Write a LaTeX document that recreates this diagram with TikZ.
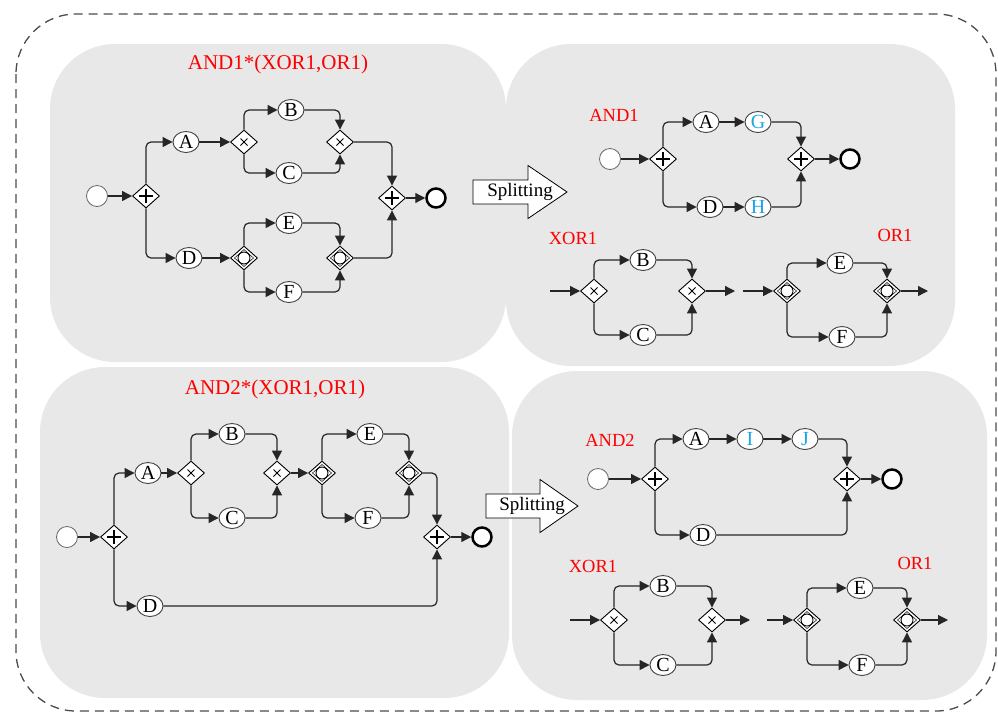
\documentclass[tikz,border=0pt]{standalone}
\usepackage{fontspec}
\setmainfont{Liberation Serif}
\usepackage{tikz}
\usetikzlibrary{shapes.geometric, arrows.meta}
\definecolor{panelgray}{RGB}{232,232,232}
\definecolor{taskblue}{RGB}{25,165,230}

\begin{document}
\begin{tikzpicture}[x=1pt, y=-1pt, >={Triangle[length=10pt, width=10pt]},
	panel/.style={fill=panelgray, rounded corners=65pt},
	task/.style={ellipse, draw=black!75, fill=white, line width=0.9pt, minimum width=26pt, minimum height=21pt, inner sep=0pt, font=\fontsize{20}{20}\selectfont},
	gate/.style={diamond, draw=black, fill=white, line width=0.9pt, minimum width=27pt, minimum height=24pt, inner sep=0pt},
	andgate/.style={gate, path picture={
		\draw [line width=1.1pt] ([xshift=-7pt]path picture bounding box.center) -- ([xshift=7pt]path picture bounding box.center)
			([yshift=-7pt]path picture bounding box.center) -- ([yshift=7pt]path picture bounding box.center);}},
	xorgate/.style={gate, path picture={
		\draw [line width=0.9pt] ([shift={(-3.5pt,-3.5pt)}]path picture bounding box.center) -- ([shift={(3.5pt,3.5pt)}]path picture bounding box.center)
			([shift={(-3.5pt,3.5pt)}]path picture bounding box.center) -- ([shift={(3.5pt,-3.5pt)}]path picture bounding box.center);}},
	orgate/.style={gate, path picture={
		\draw [line width=0.5pt] ([xshift=-9.5pt]path picture bounding box.center) -- ([yshift=8.5pt]path picture bounding box.center)
			-- ([xshift=9.5pt]path picture bounding box.center) -- ([yshift=-8.5pt]path picture bounding box.center) -- cycle;
		\draw [line width=0.9pt] (path picture bounding box.center) circle (6pt);}},
	startev/.style={circle, draw=black!60, fill=white, line width=0.8pt, minimum size=21pt, inner sep=0pt},
	endev/.style={circle, draw=black, fill=white, line width=2.5pt, minimum size=19pt, inner sep=0pt},
	flow/.style={->, draw=black!85, line width=1.2pt, rounded corners=5pt},
	parttitle/.style={text=red, font=\fontsize{21}{21}\selectfont},
	subtitle/.style={text=red, font=\fontsize{18.5}{18.5}\selectfont},
	splitarrow/.style={draw=black, fill=white, line width=0.8pt},
	splittext/.style={font=\fontsize{19}{19}\selectfont}]
	\useasboundingbox (0, 0) rectangle (998, 713);
	\draw [black!70, line width=1.3pt, dash pattern=on 9pt off 6pt, rounded corners=60pt] (16, 14) rectangle (996, 711);
	\fill [panel] (50, 44) rectangle (506, 362);
	\fill [panel] (506, 44) rectangle (955, 366);
	\fill [panel] (40, 367) rectangle (509, 698);
	\fill [panel] (512, 371) rectangle (987, 700);

	\node (t1) at (278, 64) [parttitle] {AND1*(XOR1,OR1)};
	\node (st1) at (97, 196) [startev] {};
	\node (as1) at (146, 196) [andgate] {};
	\node (a1) at (186, 142) [task] {A};
	\node (xs1) at (244, 142) [xorgate] {};
	\node (b1) at (291, 110) [task] {B};
	\node (c1) at (289, 173) [task] {C};
	\node (xj1) at (340, 142) [xorgate] {};
	\node (d1) at (189, 258) [task] {D};
	\node (os1) at (244, 258) [orgate] {};
	\node (e1) at (289, 223) [task] {E};
	\node (f1) at (289, 292) [task] {F};
	\node (oj1) at (340, 258) [orgate] {};
	\node (aj1) at (392, 198) [andgate] {};
	\node (en1) at (436, 198) [endev] {};
	\draw [flow] (st1) -- (as1);
	\draw [flow] (as1.north) |- (a1);
	\draw [flow] (as1.south) |- (d1);
	\draw [flow] (a1) -- (xs1);
	\draw [flow] (xs1.north) |- (b1);
	\draw [flow] (xs1.south) |- (c1);
	\draw [flow] (b1) -| (xj1.north);
	\draw [flow] (c1) -| (xj1.south);
	\draw [flow] (d1) -- (os1);
	\draw [flow] (os1.north) |- (e1);
	\draw [flow] (os1.south) |- (f1);
	\draw [flow] (e1) -| (oj1.north);
	\draw [flow] (f1) -| (oj1.south);
	\draw [flow] (xj1) -| (aj1.north);
	\draw [flow] (oj1) -| (aj1.south);
	\draw [flow] (aj1) -- (en1);

	\draw [splitarrow] (473, 180) -- (528, 180) -- (528, 165.5) -- (567, 192) -- (528, 218.5) -- (528, 204) -- (473, 204) -- cycle;
	\node (sp1) at (520, 192) [splittext] {Splitting};

	\node (t2) at (614, 115) [subtitle] {AND1};
	\node (st2) at (610, 159) [startev] {};
	\node (as2) at (663, 159) [andgate] {};
	\node (a2) at (706, 122) [task] {A};
	\node (g2) at (758, 122) [task, text=taskblue] {G};
	\node (d2) at (710, 207) [task] {D};
	\node (h2) at (758, 207) [task, text=taskblue] {H};
	\node (aj2) at (801, 159) [andgate] {};
	\node (en2) at (850, 159) [endev] {};
	\draw [flow] (st2) -- (as2);
	\draw [flow] (as2.north) |- (a2);
	\draw [flow] (as2.south) |- (d2);
	\draw [flow] (a2) -- (g2);
	\draw [flow] (d2) -- (h2);
	\draw [flow] (g2) -| (aj2.north);
	\draw [flow] (h2) -| (aj2.south);
	\draw [flow] (aj2) -- (en2);

	\node (t3) at (573, 238) [subtitle] {XOR1};
	\coordinate (in3) at (550, 291);
	\node (xs3) at (594, 291) [xorgate] {};
	\node (b3) at (643, 260) [task] {B};
	\node (c3) at (643, 335) [task] {C};
	\node (xj3) at (692, 291) [xorgate] {};
	\coordinate (out3) at (735, 291);
	\draw [flow] (in3) -- (xs3);
	\draw [flow] (xs3.north) |- (b3);
	\draw [flow] (xs3.south) |- (c3);
	\draw [flow] (b3) -| (xj3.north);
	\draw [flow] (c3) -| (xj3.south);
	\draw [flow] (xj3) -- (out3);

	\node (t4) at (895, 235) [subtitle] {OR1};
	\coordinate (in4) at (743, 291);
	\node (os4) at (787, 291) [orgate] {};
	\node (e4) at (840, 263) [task] {E};
	\node (f4) at (842, 337) [task] {F};
	\node (oj4) at (887, 291) [orgate] {};
	\coordinate (out4) at (928, 291);
	\draw [flow] (in4) -- (os4);
	\draw [flow] (os4.north) |- (e4);
	\draw [flow] (os4.south) |- (f4);
	\draw [flow] (e4) -| (oj4.north);
	\draw [flow] (f4) -| (oj4.south);
	\draw [flow] (oj4) -- (out4);

	\node (t5) at (275, 389) [parttitle] {AND2*(XOR1,OR1)};
	\node (st5) at (67, 537) [startev] {};
	\node (as5) at (114, 537) [andgate] {};
	\node (a5) at (148, 473) [task] {A};
	\node (xs5) at (191, 473) [xorgate] {};
	\node (b5) at (232, 434) [task] {B};
	\node (c5) at (232, 518) [task] {C};
	\node (xj5) at (277, 473) [xorgate] {};
	\node (os5) at (322, 473) [orgate] {};
	\node (e5) at (370, 434) [task] {E};
	\node (f5) at (368, 518) [task] {F};
	\node (oj5) at (409, 473) [orgate] {};
	\node (d5) at (150, 606) [task] {D};
	\node (aj5) at (437, 537) [andgate] {};
	\node (en5) at (482, 537) [endev] {};
	\draw [flow] (st5) -- (as5);
	\draw [flow] (as5.north) |- (a5);
	\draw [flow] (as5.south) |- (d5);
	\draw [flow] (a5) -- (xs5);
	\draw [flow] (xs5.north) |- (b5);
	\draw [flow] (xs5.south) |- (c5);
	\draw [flow] (b5) -| (xj5.north);
	\draw [flow] (c5) -| (xj5.south);
	\draw [flow] (xj5) -- (os5);
	\draw [flow] (os5.north) |- (e5);
	\draw [flow] (os5.south) |- (f5);
	\draw [flow] (e5) -| (oj5.north);
	\draw [flow] (f5) -| (oj5.south);
	\draw [flow] (oj5) -| (aj5.north);
	\draw [flow] (d5) -| (aj5.south);
	\draw [flow] (aj5) -- (en5);

	\draw [splitarrow] (486, 494) -- (540, 494) -- (540, 479.5) -- (578, 506) -- (540, 532.5) -- (540, 518) -- (486, 518) -- cycle;
	\node (sp2) at (532, 506) [splittext] {Splitting};

	\node (t6) at (610, 440) [subtitle] {AND2};
	\node (st6) at (598, 479) [startev] {};
	\node (as6) at (655, 479) [andgate] {};
	\node (a6) at (696, 439) [task] {A};
	\node (i6) at (750, 439) [task, text=taskblue] {I};
	\node (j6) at (805, 439) [task, text=taskblue] {J};
	\node (d6) at (703, 535) [task] {D};
	\node (aj6) at (847, 479) [andgate] {};
	\node (en6) at (892, 479) [endev] {};
	\draw [flow] (st6) -- (as6);
	\draw [flow] (as6.north) |- (a6);
	\draw [flow] (as6.south) |- (d6);
	\draw [flow] (a6) -- (i6);
	\draw [flow] (i6) -- (j6);
	\draw [flow] (j6) -| (aj6.north);
	\draw [flow] (d6) -| (aj6.south);
	\draw [flow] (aj6) -- (en6);

	\node (t7) at (593, 566) [subtitle] {XOR1};
	\coordinate (in7) at (570, 620);
	\node (xs7) at (614, 620) [xorgate] {};
	\node (b7) at (663, 586) [task] {B};
	\node (c7) at (663, 665) [task] {C};
	\node (xj7) at (712, 620) [xorgate] {};
	\coordinate (out7) at (750, 620);
	\draw [flow] (in7) -- (xs7);
	\draw [flow] (xs7.north) |- (b7);
	\draw [flow] (xs7.south) |- (c7);
	\draw [flow] (b7) -| (xj7.north);
	\draw [flow] (c7) -| (xj7.south);
	\draw [flow] (xj7) -- (out7);

	\node (t8) at (915, 563) [subtitle] {OR1};
	\coordinate (in8) at (767, 620);
	\node (os8) at (807, 620) [orgate] {};
	\node (e8) at (860, 588) [task] {E};
	\node (f8) at (862, 665) [task] {F};
	\node (oj8) at (907, 620) [orgate] {};
	\coordinate (out8) at (948, 620);
	\draw [flow] (in8) -- (os8);
	\draw [flow] (os8.north) |- (e8);
	\draw [flow] (os8.south) |- (f8);
	\draw [flow] (e8) -| (oj8.north);
	\draw [flow] (f8) -| (oj8.south);
	\draw [flow] (oj8) -- (out8);
\end{tikzpicture}
\end{document}
